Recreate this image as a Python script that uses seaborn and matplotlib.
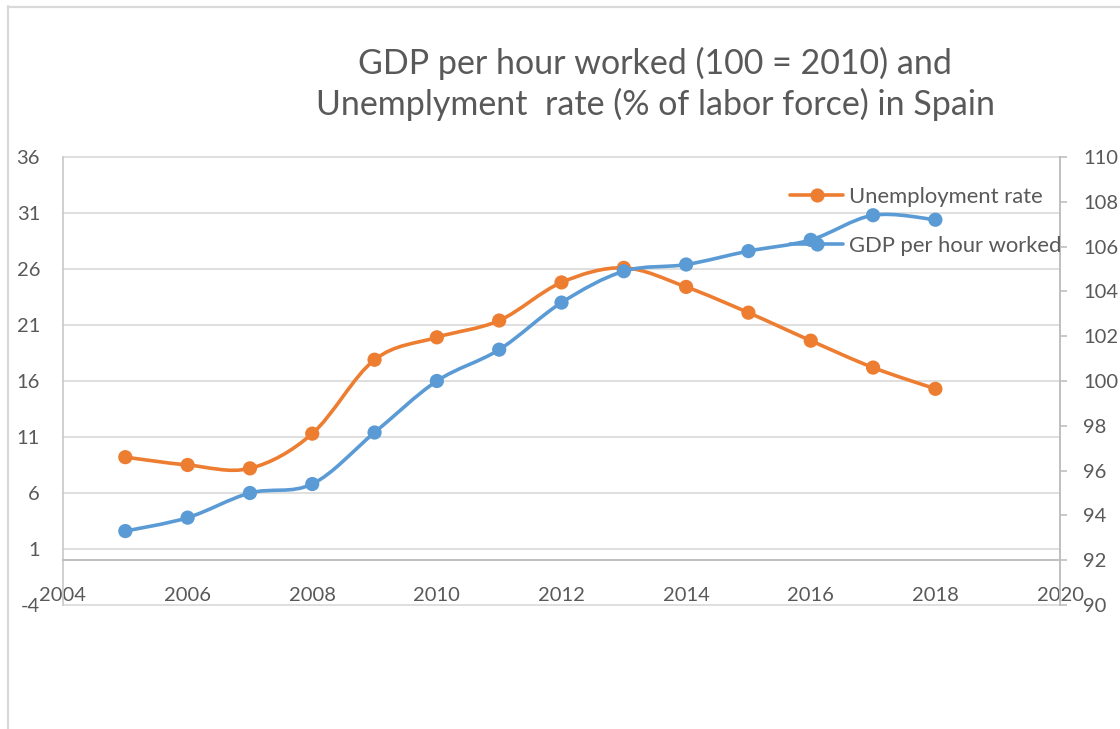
import matplotlib
matplotlib.use("Agg")
import matplotlib.pyplot as plt
from matplotlib.path import Path
from matplotlib.patches import PathPatch
from matplotlib.lines import Line2D
import seaborn as sns
import pandas as pd

# Data
years = [2005, 2006, 2007, 2008, 2009, 2010, 2011, 2012, 2013, 2014, 2015, 2016, 2017, 2018]
unemployment = [9.2, 8.5, 8.2, 11.3, 17.9, 19.9, 21.4, 24.8, 26.1, 24.4, 22.1, 19.6, 17.2, 15.3]
gdp_per_hour = [93.3, 93.9, 95.0, 95.4, 97.7, 100.0, 101.4, 103.5, 104.9, 105.2, 105.8, 106.3, 107.4, 107.2]

left_ticks = [-4, 1, 6, 11, 16, 21, 26, 31, 36]
right_ticks = [90, 92, 94, 96, 98, 100, 102, 104, 106, 108, 110]
x_ticks = [2004, 2006, 2008, 2010, 2012, 2014, 2016, 2018, 2020]

title = "GDP per hour worked (100 = 2010) and\nUnemplyment  rate (% of labor force) in Spain"
label_unemp = "Unemployment rate"
label_gdp = "GDP per hour worked"

ORANGE = "#ED7D31"
BLUE = "#5B9BD5"
TEXT = "#595959"
GRID = "#D9D9D9"
AXIS = "#BFBFBF"

sns.set_theme(style="white")
plt.rcParams["font.family"] = ["Lato", "DejaVu Sans"]

df = pd.DataFrame({"year": years, "unemp": unemployment, "gdp": gdp_per_hour})

W, H = 1120, 729
fig = plt.figure(figsize=(W / 100, H / 100), dpi=100)
fig.patch.set_facecolor("white")

# chart-area frame (left and top edges)
fig.add_artist(Line2D([7.5 / W, 7.5 / W], [0, 1 - 6 / H], color=GRID, lw=1.6))
fig.add_artist(Line2D([7.5 / W, 1], [1 - 6.5 / H, 1 - 6.5 / H], color=GRID, lw=1.6))

left, right, top, bottom = 63, 1060, 157, 605
ax = fig.add_axes([left / W, 1 - bottom / H, (right - left) / W, (bottom - top) / H])
ax.set_facecolor("none")
ax.set_xlim(2004, 2020)
ax.set_ylim(-4, 36)

ax2 = ax.twinx()
ax2.set_ylim(90, 110)


def smooth_path(xs, ys):
    """Cubic Bezier through the points (Catmull-Rom style control points)."""
    pts = list(zip(xs, ys))
    n = len(pts)
    verts = [pts[0]]
    codes = [Path.MOVETO]
    for i in range(n - 1):
        p0 = pts[i - 1] if i > 0 else pts[i]
        p1 = pts[i]
        p2 = pts[i + 1]
        p3 = pts[i + 2] if i + 2 < n else pts[i + 1]
        c1 = (p1[0] + (p2[0] - p0[0]) / 6, p1[1] + (p2[1] - p0[1]) / 6)
        c2 = (p2[0] - (p3[0] - p1[0]) / 6, p2[1] - (p3[1] - p1[1]) / 6)
        verts += [c1, c2, p2]
        codes += [Path.CURVE4] * 3
    return Path(verts, codes)


# grid and axes styling
ax.set_yticks(left_ticks)
ax.set_yticklabels([str(v) for v in left_ticks])
ax.yaxis.grid(True, color=GRID, lw=1.2)
ax.xaxis.grid(False)
for gl in ax.get_ygridlines():
    gl.set_clip_on(False)
ax.set_xticks(x_ticks)
ax.set_xticklabels([str(v) for v in x_ticks])

for s in ["top", "right"]:
    ax.spines[s].set_visible(False)
ax.spines["left"].set_color("#C8C8C8")
ax.spines["left"].set_linewidth(1.2)
ax.spines["bottom"].set_position(("data", 0))
ax.spines["bottom"].set_color(AXIS)
ax.spines["bottom"].set_linewidth(1.4)

ax.tick_params(axis="y", length=0, pad=16.5, labelsize=14.5, labelcolor=TEXT)
ax.tick_params(axis="x", length=0, pad=19.5, labelsize=14.5, labelcolor=TEXT)

for s in ["top", "left", "bottom"]:
    ax2.spines[s].set_visible(False)
ax2.spines["right"].set_color(AXIS)
ax2.spines["right"].set_linewidth(1.4)
ax2.set_yticks(right_ticks)
ax2.set_yticklabels([str(v) for v in right_ticks])
ax2.tick_params(axis="y", direction="out", length=5, width=1.2, color=AXIS,
                pad=11.5, labelsize=14.5, labelcolor=TEXT)
ax2.grid(False)

# series: smoothed lines + markers
lw = 2.6
ax.add_patch(PathPatch(smooth_path(years, unemployment), fill=False,
                       edgecolor=ORANGE, lw=lw, capstyle="round", zorder=3))
sns.scatterplot(data=df, x="year", y="unemp", ax=ax, color=ORANGE, s=105,
                edgecolor="none", zorder=4, legend=False)
ax2.add_patch(PathPatch(smooth_path(years, gdp_per_hour), fill=False,
                        edgecolor=BLUE, lw=lw, capstyle="round", zorder=3))
sns.scatterplot(data=df, x="year", y="gdp", ax=ax2, color=BLUE, s=105,
                edgecolor="none", zorder=4, legend=False)
ax.set_xlabel("")
ax.set_ylabel("")
ax2.set_xlabel("")
ax2.set_ylabel("")

# legend
handles = [
    Line2D([], [], color=ORANGE, lw=lw, marker="o", markersize=10.2, markeredgewidth=0),
    Line2D([], [], color=BLUE, lw=lw, marker="o", markersize=10.2, markeredgewidth=0),
]
leg = ax2.legend(handles, [label_unemp, label_gdp], loc="upper left",
                 bbox_to_anchor=(790 / W, 1 - 187 / H), bbox_transform=fig.transFigure,
                 frameon=False, borderpad=0, borderaxespad=0, fontsize=15.8,
                 handlelength=2.42, handletextpad=0.27, labelspacing=1.3)
for t in leg.get_texts():
    t.set_color(TEXT)
leg.set_zorder(10)

# title
fig.text(655 / W, 1 - 84 / H, title, ha="center", va="center", fontsize=24.5,
         color=TEXT, linespacing=1.3)

fig.savefig("out.png", dpi=100, facecolor="white")
